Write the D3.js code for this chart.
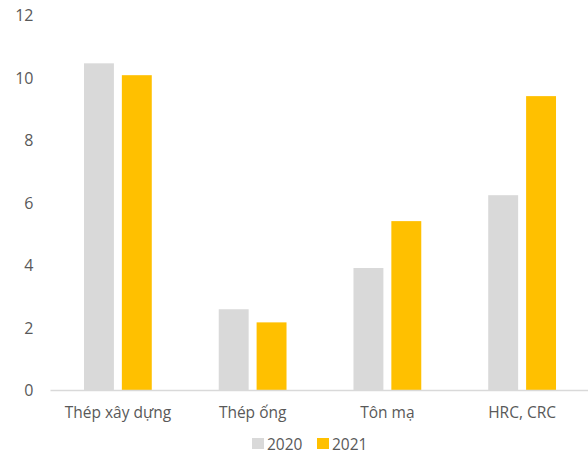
<!DOCTYPE html>
<html>
<head>
<meta charset="utf-8">
<script src="https://cdn.jsdelivr.net/npm/d3@7"></script>
<style>
  html, body { margin: 0; padding: 0; background: #fff; }
  svg { display: block; }
  text { font-family: "Open Sans", "Noto Sans", sans-serif; fill: #595959; }
</style>
</head>
<body>
<svg id="chart" width="588" height="453"></svg>
<script>
// Product groups and annual volumes
const categories = ["Thép xây dựng", "Thép ống", "Tôn mạ", "HRC, CRC"];
const seriesNames = ["2020", "2021"];
const values2020 = [10.47, 2.60, 3.92, 6.25];
const values2021 = [10.09, 2.18, 5.42, 9.42];
const yTicks = [0, 2, 4, 6, 8, 10, 12];
const colors = ["#d9d9d9", "#ffc000"];

const svg = d3.select("#chart");
const margin = { left: 50.5, right: -1.5, top: 15.5, bottom: 62.5 };
const width = 588 - margin.left - margin.right;
const height = 453 - margin.top - margin.bottom;

const g = svg.append("g").attr("transform", `translate(${margin.left},${margin.top})`);

const x0 = d3.scaleBand().domain(categories).range([0, width]).paddingInner(0.497).paddingOuter(0.2485);
const x1 = d3.scaleBand().domain(seriesNames).range([0, x0.bandwidth()]).paddingInner(0.21);
const y = d3.scaleLinear().domain([0, 12]).range([height, 0]);

const rows = categories.map((c, i) => ({ cat: c, vals: [values2020[i], values2021[i]] }));

// Bars
const groups = g.selectAll(".grp").data(rows).join("g")
  .attr("transform", d => `translate(${x0(d.cat)},0)`);
groups.selectAll("rect").data(d => d.vals.map((v, k) => ({ key: seriesNames[k], v, k })))
  .join("rect")
  .attr("x", d => x1(d.key))
  .attr("width", x1.bandwidth())
  .attr("y", d => y(d.v))
  .attr("height", d => height - y(d.v))
  .attr("fill", d => colors[d.k]);

// Baseline
g.append("line")
  .attr("x1", 0).attr("x2", width)
  .attr("y1", height).attr("y2", height)
  .attr("stroke", "#d9d9d9").attr("stroke-width", 1.5);

// Y axis labels
const yAxis = d3.axisLeft(y).tickValues(yTicks).tickSize(0).tickPadding(17);
const yg = g.append("g").call(yAxis);
yg.select(".domain").remove();
yg.selectAll("text").attr("font-size", 16).attr("fill", "#595959").style("font-family", "\"Open Sans\", sans-serif");

// X axis labels
const xAxis = d3.axisBottom(x0).tickSize(0).tickPadding(16);
const xg = g.append("g").attr("transform", `translate(0,${height})`).call(xAxis);
xg.select(".domain").remove();
xg.selectAll("text").attr("font-size", 15.5).attr("fill", "#595959").style("font-family", "\"Open Sans\", sans-serif");

// Legend
const legend = svg.append("g").attr("transform", "translate(252,438)");
const legendItems = legend.selectAll("g").data(seriesNames).join("g")
  .attr("transform", (d, i) => `translate(${i * 65},0)`);
legendItems.append("rect").attr("width", 12).attr("height", 11).attr("fill", (d, i) => colors[i]);
legendItems.append("text").attr("x", 15).attr("y", 11.5).attr("font-size", 15.5).text(d => d);
</script>
</body>
</html>
